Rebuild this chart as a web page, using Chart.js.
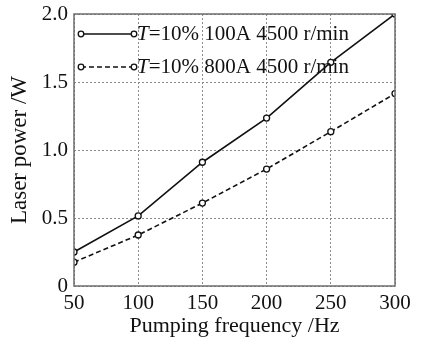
<!DOCTYPE html>
<html>
<head>
<meta charset="utf-8">
<script src="https://cdn.jsdelivr.net/npm/chart.js@4.4.0/dist/chart.umd.min.js"></script>
<style>
  html, body { margin: 0; padding: 0; background: #fff; }
  #wrap { width: 422px; height: 341px; }
</style>
</head>
<body>
<div id="wrap"><canvas id="myChart"></canvas></div>
<script>
const frequencies = [50, 100, 150, 200, 250, 300];
const power100A = [0.25, 0.515, 0.91, 1.235, 1.645, 2.0];
const power800A = [0.175, 0.375, 0.61, 0.86, 1.135, 1.415];
const yTicks = [0, 0.5, 1.0, 1.5, 2.0];
const seriesNames = ["100A 4500 r/min", "800A 4500 r/min"];

const serif = "'Liberation Serif', 'DejaVu Serif', serif";
const cxt = document.querySelector("#myChart");

// legend inside the plot + frame around it
const boxLegend = {
  id: "boxLegend",
  afterDatasetsDraw(chart) {
    const { ctx, chartArea: a } = chart;
    ctx.save();
    ctx.strokeStyle = "#6e6e6e";
    ctx.lineWidth = 1.5;
    ctx.setLineDash([]);
    ctx.strokeRect(a.left, a.top, a.right - a.left, a.bottom - a.top);

    chart.data.datasets.forEach((ds, i) => {
      const y = a.top + 20 + i * 33;
      const x0 = a.left + 7;
      const x1 = a.left + 60;
      ctx.strokeStyle = "#111";
      ctx.lineWidth = 1.6;
      ctx.setLineDash(ds.borderDash || []);
      ctx.beginPath();
      ctx.moveTo(x0, y);
      ctx.lineTo(x1, y);
      ctx.stroke();
      ctx.setLineDash([]);
      [x0, x1].forEach((x) => {
        ctx.beginPath();
        ctx.arc(x, y, 2.8, 0, Math.PI * 2);
        ctx.fillStyle = "#fff";
        ctx.fill();
        ctx.lineWidth = 1.3;
        ctx.stroke();
      });
      ctx.fillStyle = "#111";
      ctx.textBaseline = "middle";
      ctx.textAlign = "left";
      let tx = x1 + 3;
      ctx.font = "italic 21px " + serif;
      ctx.fillText("T", tx, y);
      tx += ctx.measureText("T").width;
      ctx.font = "21px " + serif;
      ctx.fillText("=10% " + seriesNames[i], tx, y);
    });
    ctx.restore();
  },
};

const config = {
  type: "line",
  data: {
    datasets: [
      {
        label: "T=10% " + seriesNames[0],
        data: frequencies.map((f, i) => ({ x: f, y: power100A[i] })),
        borderColor: "#111",
        borderWidth: 1.6,
        pointRadius: 3,
        pointBorderWidth: 1.3,
        pointBackgroundColor: "#fff",
        pointBorderColor: "#111",
        tension: 0,
      },
      {
        label: "T=10% " + seriesNames[1],
        data: frequencies.map((f, i) => ({ x: f, y: power800A[i] })),
        borderColor: "#111",
        borderWidth: 1.6,
        borderDash: [5, 3],
        pointRadius: 3,
        pointBorderWidth: 1.3,
        pointBackgroundColor: "#fff",
        pointBorderColor: "#111",
        tension: 0,
      },
    ],
  },
  options: {
    responsive: true,
    maintainAspectRatio: false,
    animation: false,
    layout: { padding: { top: 14, right: 27, left: 6, bottom: 0 } },
    plugins: {
      legend: { display: false },
      tooltip: { enabled: false },
    },
    scales: {
      x: {
        type: "linear",
        min: 50,
        max: 300,
        afterBuildTicks: (axis) => {
          axis.ticks = frequencies.map((v) => ({ value: v }));
        },
        afterFit: (axis) => {
          axis.height = 55;
          axis.paddingLeft = 0;
          axis.paddingRight = 0;
        },
        grid: {
          color: "#8a8a8a",
          lineWidth: 1,
          drawTicks: false,
        },
        border: { display: false, dash: [2, 2] },
        ticks: {
          color: "#111",
          font: { family: serif, size: 21 },
          padding: 5,
          maxRotation: 0,
        },
        title: {
          display: true,
          text: "Pumping frequency /Hz",
          color: "#111",
          font: { family: serif, size: 22 },
          padding: { top: 0, bottom: 2 },
        },
      },
      y: {
        min: 0,
        max: 2.0,
        afterBuildTicks: (axis) => {
          axis.ticks = yTicks.map((v) => ({ value: v }));
        },
        afterFit: (axis) => {
          axis.width = 68;
          axis.paddingTop = 0;
          axis.paddingBottom = 0;
        },
        grid: {
          color: "#8a8a8a",
          lineWidth: 1,
          drawTicks: false,
        },
        border: { display: false, dash: [2, 2] },
        ticks: {
          color: "#111",
          font: { family: serif, size: 21 },
          padding: 6,
          callback: (v) => (v === 0 ? "0" : v.toFixed(1)),
        },
        title: {
          display: true,
          text: "Laser power /W",
          color: "#111",
          font: { family: serif, size: 23 },
          padding: { top: 0, bottom: 2 },
        },
      },
    },
  },
  plugins: [boxLegend],
};

new Chart(cxt, config);
</script>
</body>
</html>
